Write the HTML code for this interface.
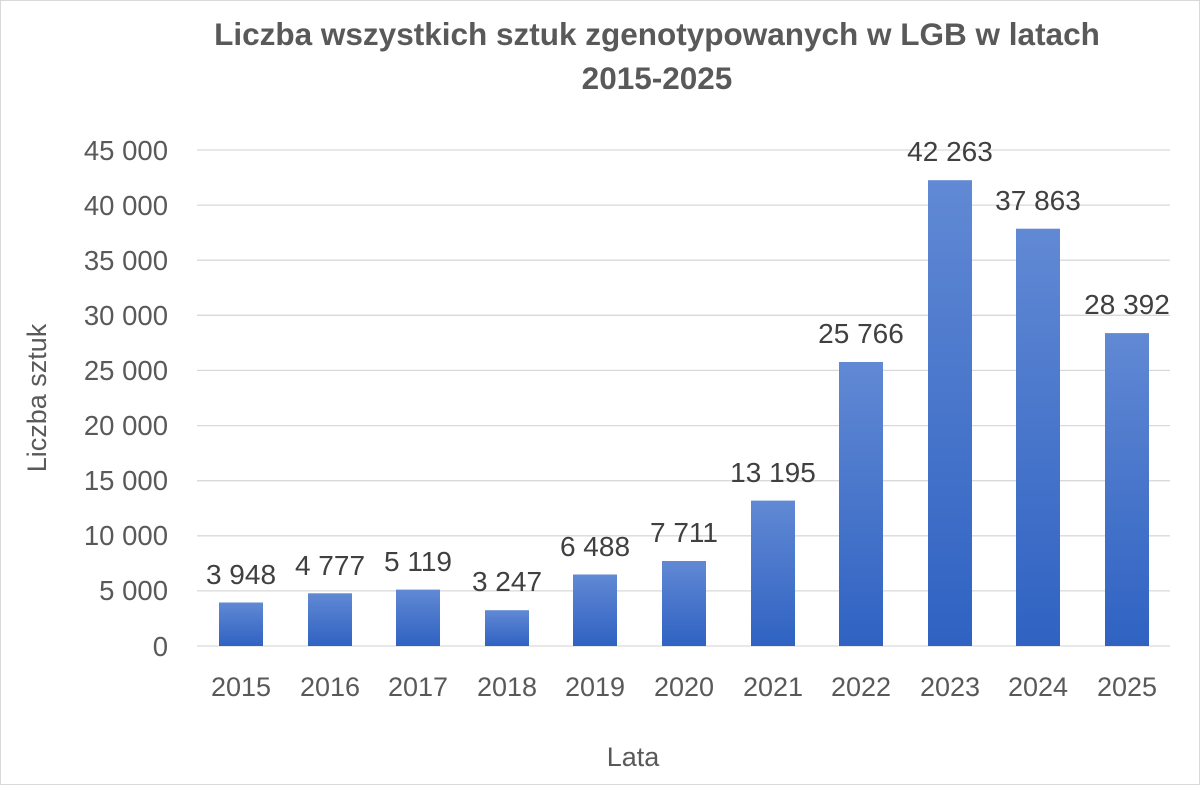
<!DOCTYPE html>
<html><head><meta charset="utf-8"><style>
body{margin:0;background:#fff}
svg{display:block}
text{font-family:"Liberation Sans",sans-serif}
</style></head><body>
<svg width="1200" height="785" xmlns="http://www.w3.org/2000/svg">
<defs><linearGradient id="g" x1="0" y1="0" x2="0" y2="1"><stop offset="0" stop-color="#6189d4"/><stop offset="1" stop-color="#2f62c2"/></linearGradient></defs>
<rect x="0.5" y="0.5" width="1199" height="784" fill="#fff" stroke="#d9d9d9"/>
<g font-weight="bold" fill="#595959" font-size="31.5" text-anchor="middle">
<text x="657" y="45">Liczba wszystkich sztuk zgenotypowanych w LGB w latach</text>
<text x="657" y="89">2015-2025</text></g>
<g stroke="#d9d9d9" stroke-width="1.3">
<line x1="197" x2="1170" y1="150" y2="150"/><line x1="197" x2="1170" y1="205.1" y2="205.1"/><line x1="197" x2="1170" y1="260.2" y2="260.2"/><line x1="197" x2="1170" y1="315.3" y2="315.3"/><line x1="197" x2="1170" y1="370.4" y2="370.4"/><line x1="197" x2="1170" y1="425.6" y2="425.6"/><line x1="197" x2="1170" y1="480.7" y2="480.7"/><line x1="197" x2="1170" y1="535.8" y2="535.8"/><line x1="197" x2="1170" y1="590.9" y2="590.9"/><line x1="197" x2="1170" y1="646" y2="646"/></g>
<g fill="#595959" font-size="27.5" text-anchor="end">
<text x="168" y="160">45 000</text><text x="168" y="215">40 000</text><text x="168" y="270">35 000</text><text x="168" y="325">30 000</text><text x="168" y="380">25 000</text><text x="168" y="435">20 000</text><text x="168" y="490">15 000</text><text x="168" y="545">10 000</text><text x="168" y="600">5 000</text><text x="168" y="656">0</text></g>
<g fill="url(#g)">
<rect x="219" y="602.5" width="44" height="43.5"/>
<rect x="308" y="593.3" width="44" height="52.7"/>
<rect x="396" y="589.6" width="44" height="56.4"/>
<rect x="485" y="610.2" width="44" height="35.8"/>
<rect x="573" y="574.5" width="44" height="71.5"/>
<rect x="662" y="561" width="44" height="85"/>
<rect x="751" y="500.6" width="44" height="145.4"/>
<rect x="839" y="362" width="44" height="284"/>
<rect x="928" y="180.2" width="44" height="465.8"/>
<rect x="1016" y="228.7" width="44" height="417.3"/>
<rect x="1105" y="333.1" width="44" height="312.9"/></g>
<g fill="#404040" font-size="28" text-anchor="middle">
<text x="241" y="584">3 948</text><text x="330" y="575">4 777</text><text x="418" y="571">5 119</text><text x="507" y="591">3 247</text><text x="595" y="556">6 488</text><text x="684" y="542">7 711</text><text x="773" y="482">13 195</text><text x="861" y="343">25 766</text><text x="950" y="161">42 263</text><text x="1038" y="210">37 863</text><text x="1127" y="314">28 392</text></g>
<g fill="#595959" font-size="27" text-anchor="middle">
<text x="241" y="696">2015</text><text x="330" y="696">2016</text><text x="418" y="696">2017</text><text x="507" y="696">2018</text><text x="595" y="696">2019</text><text x="684" y="696">2020</text><text x="773" y="696">2021</text><text x="861" y="696">2022</text><text x="950" y="696">2023</text><text x="1038" y="696">2024</text><text x="1127" y="696">2025</text>
<text x="633" y="766">Lata</text>
<text transform="translate(46 398) rotate(-90)">Liczba sztuk</text></g>
</svg>
</body></html>
